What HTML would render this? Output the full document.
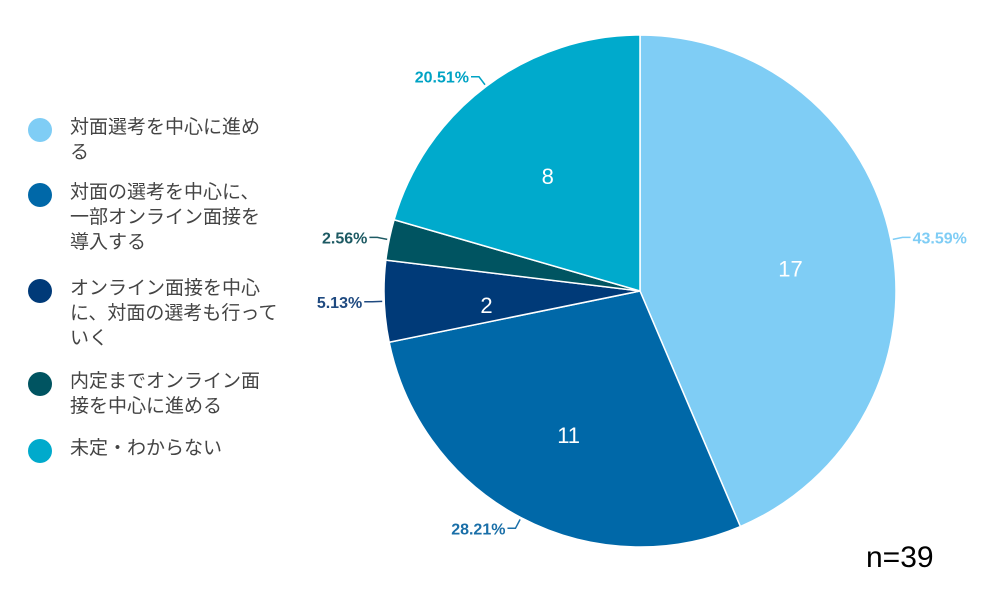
<!DOCTYPE html>
<html><head><meta charset="utf-8"><style>
body{margin:0;width:1000px;height:600px;background:#fff;font-family:"Liberation Sans","Noto Sans CJK JP",sans-serif;overflow:hidden;position:relative}
.leg{position:absolute;left:0;top:0}
.item{position:absolute;left:28px;width:260px}
.dot{position:absolute;left:0;width:24px;height:24px;border-radius:50%}
.txt{position:absolute;left:42px;top:-3px;font-size:19px;line-height:25px;color:#444;width:208px}
#n{position:absolute;left:866px;top:541px;font-size:30px;color:#000}
</style></head><body>
<div class="leg">
<div class="item" style="top:118px"><div class="dot" style="background:#7fcdf5"></div><div class="txt">対面選考を中心に進める</div></div>
<div class="item" style="top:183px"><div class="dot" style="background:#0068a8"></div><div class="txt">対面の選考を中心に、一部オンライン面接を導入する</div></div>
<div class="item" style="top:279px"><div class="dot" style="background:#003a78"></div><div class="txt">オンライン面接を中心に、対面の選考も行っていく</div></div>
<div class="item" style="top:372px"><div class="dot" style="background:#005461"></div><div class="txt">内定までオンライン面接を中心に進める</div></div>
<div class="item" style="top:439px"><div class="dot" style="background:#00aacc"></div><div class="txt">未定・わからない</div></div>
</div>
<svg id="pie" width="1000" height="600" style="position:absolute;left:0;top:0"></svg>
<div id="n">n=39</div>
<script>
const categories=["対面選考を中心に進める","対面の選考を中心に、一部オンライン面接を導入する","オンライン面接を中心に、対面の選考も行っていく","内定までオンライン面接を中心に進める","未定・わからない"];
const values=[17,11,2,1,8];
const percentLabels=["43.59%","28.21%","5.13%","2.56%","20.51%"];
const colors=["#7fcdf5","#0068a8","#003a78","#005461","#00aacc"];
const labelColors=["#7fcdf5","#1a6fa8","#1f4a80","#1d5a63","#00a3c4"];
const svg=document.getElementById('pie');const NS="http://www.w3.org/2000/svg";
const cx=640,cy=291,r=256;
const total=values.reduce((a,b)=>a+b,0);
function pt(a,rr){return [cx+rr*Math.sin(a),cy-rr*Math.cos(a)];}
let a0=0;
values.forEach((v,i)=>{
 const a1=a0+v/total*2*Math.PI;
 const p0=pt(a0,r),p1=pt(a1,r);
 const large=(a1-a0)>Math.PI?1:0;
 const path=document.createElementNS(NS,'path');
 path.setAttribute('d',`M${cx},${cy}L${p0[0]},${p0[1]}A${r},${r} 0 ${large} 1 ${p1[0]},${p1[1]}Z`);
 path.setAttribute('fill',colors[i]);path.setAttribute('stroke','#fff');path.setAttribute('stroke-width','1.5');
 
 
 svg.appendChild(path);
 const am=(a0+a1)/2;
 if(v/total>0.03){
  const c=pt(am,r*0.6);
  const t=document.createElementNS(NS,'text');
  t.setAttribute('x',c[0]);t.setAttribute('y',c[1]+16);t.setAttribute('text-anchor','middle');
  t.setAttribute('font-size','22');t.setAttribute('fill','#fff');t.textContent=v;
  
  
  svg.appendChild(t);
 }
 const e=pt(am,r+2),b=pt(am,r+12);const right=Math.sin(am)>=0;
 const hx=b[0]+(right?8:-8);
 const l=document.createElementNS(NS,'polyline');
 l.setAttribute('points',`${e[0]},${e[1]} ${b[0]},${b[1]} ${hx},${b[1]}`);
 l.setAttribute('fill','none');l.setAttribute('stroke',labelColors[i]);l.setAttribute('stroke-width','1.5');
 
 
 svg.appendChild(l);
 const t2=document.createElementNS(NS,'text');
 t2.setAttribute('x',hx+(right?2:-2));t2.setAttribute('y',b[1]+6);t2.setAttribute('text-anchor',right?'start':'end');
 t2.setAttribute('font-size','16');t2.setAttribute('font-weight','bold');t2.setAttribute('fill',labelColors[i]);
 t2.textContent=percentLabels[i];
 
 
 svg.appendChild(t2);
 a0=a1;
});
</script>
</body></html>
